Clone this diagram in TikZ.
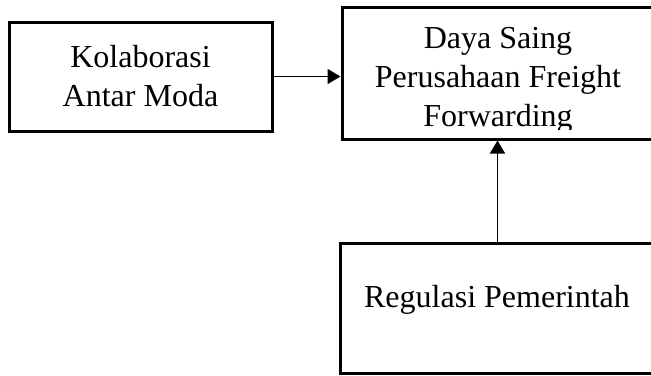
\documentclass[tikz,border=0pt]{standalone}
\usepackage{fontspec}
\setmainfont{Liberation Serif}
\usetikzlibrary{arrows.meta}
\begin{document}
\begin{tikzpicture}[x=0.5pt,y=-0.5pt,
    box/.style={draw,line width=1.5pt,inner sep=0pt},
    lbl/.style={font=\fontsize{16}{19.5}\selectfont,align=center,inner sep=0pt},
    conn/.style={line width=0.75pt,-{Triangle[length=6.5pt,width=7.5pt]}}]
  \useasboundingbox (0,0) rectangle (651,375);
  \node[box,lbl,minimum width=131.5pt,minimum height=54.5pt] (kolab) at (140.5,76.5)
    {Kolaborasi\\Antar Moda};
  \node[box,minimum width=156.5pt,minimum height=66pt] (daya) at (498.5,73) {};
  \node[box,minimum width=157.5pt,minimum height=65pt] (regulasi) at (497.5,308) {};
  \begin{scope}
    \clip (342,7) rectangle (655,129);
    \node[lbl,anchor=north] (tdaya) at (498,27)
      {Daya Saing\\Perusahaan Freight\\Forwarding};
  \end{scope}
  \node[lbl,anchor=base] (tregulasi) at (497,307) {Regulasi Pemerintah};
  \begin{scope}[conn]
    \draw (kolab.east) -- (kolab.east -| daya.west);
    \draw (regulasi.north) -- (regulasi.north |- daya.south);
  \end{scope}
\end{tikzpicture}
\end{document}
